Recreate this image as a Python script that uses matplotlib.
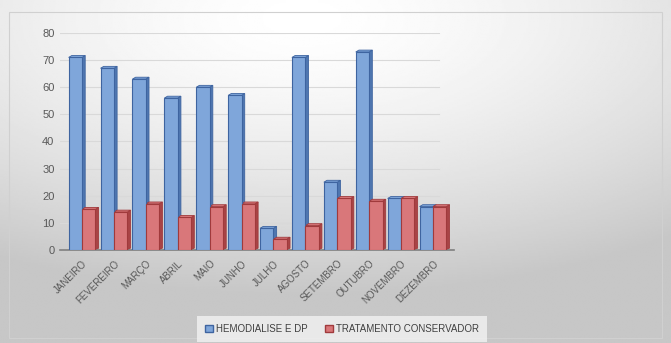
import matplotlib
matplotlib.use('Agg')
import matplotlib.pyplot as plt
from matplotlib.patches import Rectangle, Polygon
import numpy as np

meses = ['JANEIRO', 'FEVEREIRO', 'MARÇO', 'ABRIL', 'MAIO', 'JUNHO', 'JULHO',
         'AGOSTO', 'SETEMBRO', 'OUTUBRO', 'NOVEMBRO', 'DEZEMBRO']
hemodialise = [71, 67, 63, 56, 60, 57, 8, 71, 25, 73, 19, 16]
conservador = [15, 14, 17, 12, 16, 17, 4, 9, 19, 18, 19, 16]
yticks = [0, 10, 20, 30, 40, 50, 60, 70, 80]

plt.rcParams['font.family'] = ['Liberation Sans', 'DejaVu Sans']

fig = plt.figure(figsize=(6.71, 3.43), dpi=100)

# gradient background
bg = fig.add_axes([0, 0, 1, 1], zorder=-10)
yy, xx = np.mgrid[0:1:200j, 0:1:400j]
r = np.sqrt(((xx - 0.45) / 1.0) ** 2 + ((yy - 0.05) / 0.9) ** 2)
grad = 1 - 0.22 * np.clip(r / 0.9, 0, 1) ** 1.5
bg.imshow(grad, cmap='gray', vmin=0, vmax=1, aspect='auto', extent=[0, 1, 1, 0])
bg.add_patch(Rectangle((0.013, 0.015), 0.973, 0.95, fill=False, ec='#d0d0d0', lw=0.8,
                       transform=bg.transAxes))
bg.set_xlim(0, 1)
bg.set_ylim(1, 0)
bg.axis('off')

ax = fig.add_axes([60 / 671, 1 - 250 / 343, 394 / 671, 217 / 343])
ax.patch.set_alpha(0)

x = np.arange(len(meses))
w = 0.42
depth = 0.1
dy = 0.7

for vals, off, face, side, edge in [(hemodialise, -w / 2, '#7fa6da', '#4f77b0', '#3e64a0'),
                                    (conservador, w / 2, '#d9777a', '#a94446', '#a03a3c')]:
    bars = ax.bar(x + off, vals, w, color=face, edgecolor=edge, linewidth=0.8, zorder=3)
    for b in bars:
        x0 = b.get_x() + b.get_width()
        h = b.get_height()
        ax.add_patch(Polygon([(x0, 0), (x0 + depth, dy), (x0 + depth, h + dy), (x0, h)],
                             closed=True, fc=side, ec=edge, lw=0.6, zorder=2))
        ax.add_patch(Polygon([(b.get_x(), h), (b.get_x() + depth, h + dy),
                              (x0 + depth, h + dy), (x0, h)],
                             closed=True, fc=face, ec=edge, lw=0.6, zorder=2))

ax.set_xlim(-0.69, 11.66)
ax.set_ylim(0, 80)
ax.set_yticks(yticks)
ax.set_yticklabels([str(t) for t in yticks], fontsize=8, color='#595959')
for t in yticks[1:]:
    ax.plot([-0.69, 11.2], [t, t], color='#d9d9d9', lw=0.8, zorder=1)
ax.set_xticks(x)
ax.set_xticklabels(meses, rotation=45, ha='right', rotation_mode='anchor',
                   fontsize=7, color='#595959')
ax.tick_params(axis='both', length=0, pad=4)
ax.tick_params(axis='x', pad=6)
for s in ['top', 'right', 'left']:
    ax.spines[s].set_visible(False)
ax.spines['bottom'].set_color('#7f7f7f')
ax.spines['bottom'].set_linewidth(1.2)

handles = [Rectangle((0, 0), 1, 1, fc='#7fa6da', ec='#3e64a0'),
           Rectangle((0, 0), 1, 1, fc='#d9777a', ec='#a03a3c')]
leg = fig.legend(handles, ['HEMODIALISE E DP', 'TRATAMENTO CONSERVADOR'],
                 loc='center', bbox_to_anchor=(342 / 671, 1 - 329 / 343), ncol=2,
                 fontsize=7, frameon=True, handlelength=0.8, handleheight=0.8,
                 handletextpad=0.3, columnspacing=1.8, borderpad=0.5)
leg.get_frame().set_facecolor('#f2f2f2')
leg.get_frame().set_edgecolor('none')
leg.get_frame().set_boxstyle('square', pad=0.3)
for t in leg.get_texts():
    t.set_color('#404040')

fig.savefig('out.png', dpi=100)
